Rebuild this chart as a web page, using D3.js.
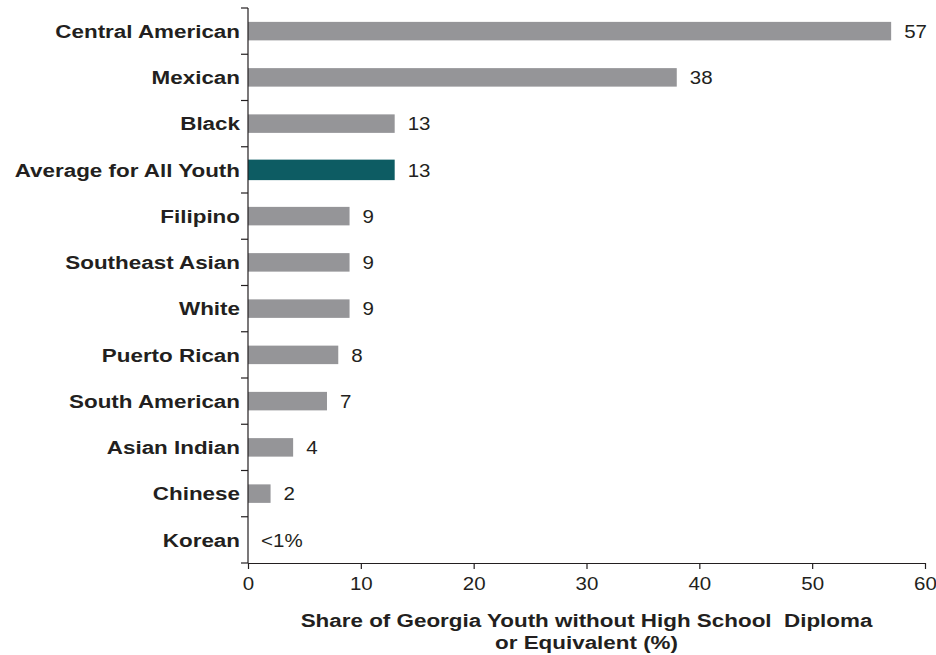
<!DOCTYPE html>
<html><head><meta charset="utf-8">
<script src="https://cdn.jsdelivr.net/npm/d3@7/dist/d3.min.js"></script>
<style>body{margin:0;background:#fff}svg{display:block}text{font-family:"Liberation Sans",Arial,sans-serif;fill:#231f20}</style>
</head><body>
<svg id="c" width="936" height="655"></svg>
<script>
const categories = ["Central American","Mexican","Black","Average for All Youth","Filipino","Southeast Asian","White","Puerto Rican","South American","Asian Indian","Chinese","Korean"];
const values = [57,38,13,13,9,9,9,8,7,4,2,0];
const valueLabels = ["57","38","13","13","9","9","9","8","7","4","2","<1%"];
const highlight = "Average for All Youth";
const xTicks = [0,10,20,30,40,50,60];

const SX = 1.18, SXN = 1.08, FS = 19;
const svg = d3.select("#c");
const m = {left:248, right:925, top:8, bottom:563};
const x = d3.scaleLinear().domain([0,60]).range([m.left, m.right]);
const y = d3.scaleBand().domain(categories).range([m.top, m.bottom]).paddingInner(0.6).paddingOuter(0.3);
const yb = d3.scaleLinear().domain([0, categories.length]).range([m.top, m.bottom]);

// bars
svg.append("g").selectAll("rect").data(categories).join("rect")
  .attr("x", x(0))
  .attr("y", (d)=> d===highlight ? y(d)-1 : y(d))
  .attr("height", (d)=> d===highlight ? y.bandwidth()+2 : y.bandwidth())
  .attr("width", (d,i)=> x(values[i]) - x(0))
  .attr("fill", d => d===highlight ? "#0d5c63" : "#959598");

// value labels
svg.append("g").selectAll("text").data(categories).join("text")
  .attr("transform", (d,i)=> `translate(${x(values[i]) + 13},${y(d) + y.bandwidth()/2}) scale(${SXN},1)`)
  .attr("dy", "0.35em")
  .attr("font-size", FS)
  .text((d,i)=> valueLabels[i]);

// y axis line and boundary ticks
const ax = svg.append("g").attr("stroke", "#231f20").attr("stroke-width", 1.2);
ax.append("line").attr("x1", x(0)).attr("x2", x(0)).attr("y1", m.top).attr("y2", m.bottom);
ax.selectAll("line.t").data(d3.range(categories.length+1)).join("line").attr("class","t")
  .attr("x1", x(0)-7).attr("x2", x(0)).attr("y1", d=>yb(d)).attr("y2", d=>yb(d));

// category labels
svg.append("g").selectAll("text").data(categories).join("text")
  .attr("transform", d => `translate(${x(0) - 8},${y(d) + y.bandwidth()/2}) scale(${SX},1)`)
  .attr("dy", "0.35em")
  .attr("text-anchor", "end")
  .attr("font-size", FS)
  .attr("font-weight", "bold")
  .text(d => d);

// x axis
const xa = svg.append("g").attr("transform", `translate(0,${m.bottom})`)
  .call(d3.axisBottom(x).tickValues(xTicks).tickSize(6).tickSizeOuter(0).tickPadding(8));
xa.select(".domain").attr("stroke","#231f20").attr("stroke-width",1.2);
xa.selectAll(".tick line").attr("stroke","#231f20").attr("stroke-width",1.2);
xa.selectAll(".tick text").attr("font-size",FS).attr("font-family","Liberation Sans, Arial, sans-serif").attr("fill","#231f20")
  .attr("transform", `scale(${SXN},1)`);

// x title
const cx = (m.left+m.right)/2;
svg.append("text").attr("text-anchor","middle").attr("font-size",FS).attr("font-weight","bold")
  .attr("transform", `translate(${cx},627) scale(${SX},1)`).text("Share of Georgia Youth without High School\u00a0 Diploma");
svg.append("text").attr("text-anchor","middle").attr("font-size",FS).attr("font-weight","bold")
  .attr("transform", `translate(${cx},649) scale(${SX},1)`).text("or Equivalent (%)");
</script>
</body></html>
